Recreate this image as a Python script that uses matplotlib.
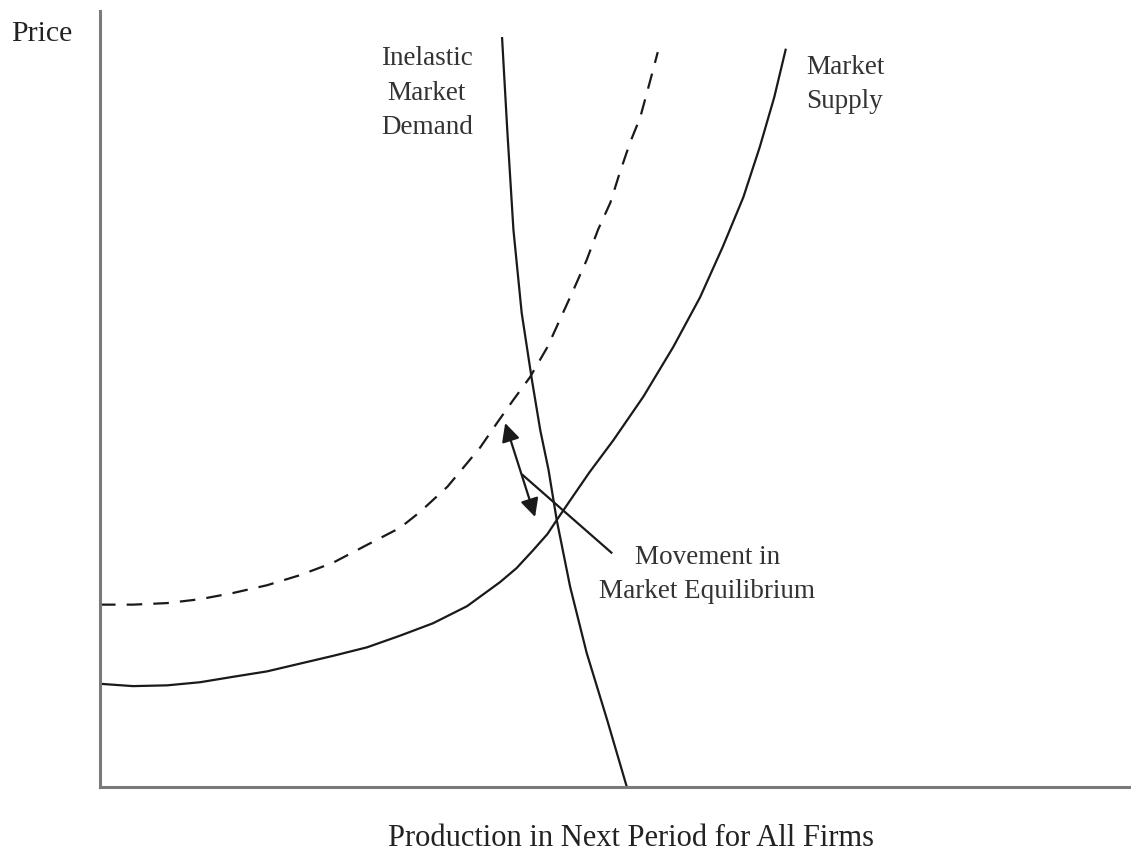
import matplotlib
matplotlib.use("Agg")
import matplotlib.pyplot as plt

# Quantity (0-100) and price (0-100)
supply_q = [0.0, 3.2, 6.5, 9.7, 12.9, 16.2, 19.4, 22.6, 25.9, 29.1, 32.3, 35.6, 38.8, 40.4,
            42.0, 43.4, 44.3, 46.1, 47.5, 49.8, 52.7, 55.6, 58.2, 60.4, 62.4, 64.0, 65.4, 66.5]
supply_p = [13.3, 13.0, 13.1, 13.5, 14.2, 14.9, 15.9, 16.9, 18.0, 19.5, 21.1, 23.3, 26.4, 28.2,
            30.5, 32.6, 34.4, 37.9, 40.6, 44.7, 50.3, 56.7, 63.1, 69.6, 76.0, 82.5, 88.9, 95.0]

shifted_q = [0.0, 3.2, 6.5, 9.7, 12.9, 16.2, 19.4, 22.6, 25.9, 29.1, 31.0, 33.7, 36.9, 38.5,
             40.1, 41.7, 43.4, 44.6, 45.9, 47.2, 48.3, 49.5, 50.4, 51.4, 52.4, 53.3, 54.1]
shifted_p = [23.5, 23.5, 23.7, 24.2, 25.0, 26.0, 27.3, 28.9, 31.2, 33.4, 35.4, 38.7, 43.8, 46.9,
             49.9, 52.8, 56.7, 60.2, 64.0, 67.9, 71.8, 75.3, 79.1, 83.0, 86.3, 90.7, 94.7]

demand_q = [39.0, 39.5, 40.1, 40.9, 41.9, 42.7, 43.5, 44.3, 45.6, 47.2, 49.2, 51.1]
demand_p = [96.5, 84.7, 71.8, 61.1, 52.4, 46.0, 40.9, 34.4, 25.8, 17.3, 8.6, 0.0]

move_start = (39.3, 46.9)
move_end = (42.2, 34.8)
leader_start = (41.0, 40.2)
leader_end = (49.6, 30.2)

W, H = 1131, 852
fig = plt.figure(figsize=(W / 100, H / 100), dpi=100)
ax = fig.add_axes([100 / W, (H - 787) / H, (W - 100) / W, (787 - 11) / H])
ax.set_xlim(0, 100)
ax.set_ylim(0, 100)
for s in ["top", "right"]:
    ax.spines[s].set_visible(False)
for s in ["left", "bottom"]:
    ax.spines[s].set_color("#7a7a7a")
    ax.spines[s].set_linewidth(2.2)
ax.set_xticks([])
ax.set_yticks([])

serif = ["Liberation Serif", "DejaVu Serif"]
lc = "#1a1a1a"
ax.plot(supply_q, supply_p, color=lc, lw=1.6, solid_joinstyle="round")
ax.plot(shifted_q, shifted_p, color=lc, lw=1.6, dashes=(7, 5))
ax.plot(demand_q, demand_p, color=lc, lw=1.6, solid_joinstyle="round", clip_on=False)

ax.annotate("", xy=move_start, xytext=move_end,
            arrowprops=dict(arrowstyle="<|-|>,head_length=0.5,head_width=0.25", color=lc, lw=1.6,
                            mutation_scale=22, shrinkA=0, shrinkB=0))
ax.plot([leader_start[0], leader_end[0]], [leader_start[1], leader_end[1]], color=lc, lw=1.6)

tc = "#333333"
fs = 19.5
ax.text(31.7, 89.4, "Inelastic\nMarket\nDemand", ha="center", va="center",
        fontsize=fs, family=serif, color=tc, linespacing=1.5)
ax.text(68.5, 90.5, "Market\nSupply", ha="left", va="center",
        fontsize=fs, family=serif, color=tc, linespacing=1.5)
ax.text(58.9, 27.4, "Movement in\nMarket Equilibrium", ha="center", va="center",
        fontsize=fs, family=serif, color=tc, linespacing=1.5)

fig.text(11 / W, 1 - 34 / H, "Price", ha="left", va="center",
         fontsize=21.5, family=serif, color="#222222")
fig.text(631 / W, 1 - 838 / H, "Production in Next Period for All Firms",
         ha="center", va="center", fontsize=22, family=serif, color="#222222")

fig.savefig("out.png", dpi=100, facecolor="white")
